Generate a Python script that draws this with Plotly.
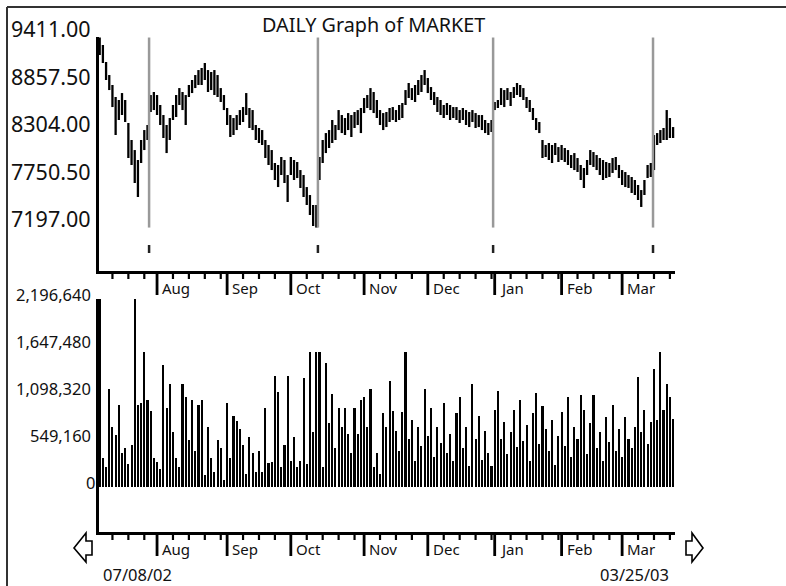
import plotly.graph_objects as go

W, H = 786, 586

title_text = "DAILY Graph of MARKET"
start_label = "07/08/02"
end_label = "03/25/03"

# Daily high / low of the index (07/08/02 .. 03/25/03, one entry per trading day)
high = [9411, 9324, 9126, 8974, 8858, 8718, 8683, 8764, 8683, 8415,
        8217, 8100, 7984, 8217, 8333, 8392, 8741, 8776, 8741, 8625,
        8508, 8392, 8473, 8625, 8741, 8822, 8776, 8741, 8858, 8916,
        8974, 9032, 9056, 9114, 9032, 9009, 9032, 8974, 8822, 8741,
        8590, 8508, 8473, 8508, 8566, 8601, 8764, 8590, 8566, 8392,
        8357, 8333, 8217, 8159, 8100, 7949, 7926, 8019, 7984, 7809,
        8019, 7984, 7961, 7867, 7809, 7669, 7576, 7460, 7460, 8019,
        8217, 8298, 8333, 8450, 8392, 8566, 8508, 8473, 8531, 8508,
        8543, 8566, 8590, 8706, 8741, 8822, 8776, 8683, 8566, 8531,
        8543, 8590, 8601, 8566, 8625, 8648, 8799, 8881, 8822, 8858,
        8916, 8974, 9032, 8939, 8834, 8776, 8718, 8683, 8625, 8648,
        8625, 8601, 8601, 8566, 8590, 8566, 8543, 8566, 8531, 8508,
        8508, 8450, 8415, 8450, 8660, 8683, 8822, 8799, 8822, 8776,
        8834, 8881, 8858, 8822, 8718, 8683, 8590, 8473, 8427, 8217,
        8159, 8182, 8159, 8182, 8135, 8159, 8124, 8100, 8042, 8065,
        8007, 7926, 7891, 7984, 8100, 8077, 8042, 8007, 7984, 7961,
        7949, 8007, 8019, 7926, 7867, 7844, 7809, 7786, 7751, 7693,
        7634, 7751, 7926, 7949, 8275, 8298, 8333, 8357, 8566, 8473,
        8368]
low = [9207, 9114, 8916, 8799, 8601, 8275, 8450, 8508, 8427, 8007,
       7926, 7716, 7553, 7949, 8100, 8217, 8543, 8566, 8508, 8392,
       8240, 8065, 8217, 8450, 8485, 8625, 8566, 8392, 8718, 8764,
       8822, 8858, 8858, 8916, 8776, 8799, 8741, 8718, 8660, 8566,
       8392, 8252, 8275, 8333, 8392, 8427, 8508, 8357, 8333, 8217,
       8182, 8159, 8007, 7926, 7867, 7751, 7669, 7809, 7716, 7495,
       7809, 7751, 7774, 7658, 7553, 7460, 7343, 7215, 7197, 7751,
       7949, 8065, 8124, 8182, 8217, 8333, 8298, 8275, 8333, 8252,
       8357, 8392, 8298, 8531, 8590, 8566, 8531, 8473, 8392, 8333,
       8368, 8427, 8450, 8427, 8450, 8473, 8625, 8706, 8683, 8660,
       8741, 8776, 8858, 8764, 8683, 8625, 8543, 8508, 8473, 8508,
       8450, 8473, 8450, 8415, 8450, 8392, 8368, 8427, 8357, 8368,
       8333, 8298, 8275, 8310, 8566, 8590, 8625, 8601, 8683, 8613,
       8706, 8741, 8718, 8683, 8590, 8543, 8450, 8333, 8298, 8007,
       8019, 7984, 7949, 8042, 7961, 7984, 7961, 7926, 7891, 7867,
       7844, 7751, 7658, 7809, 7926, 7903, 7867, 7809, 7751, 7774,
       7786, 7833, 7867, 7774, 7693, 7669, 7658, 7600, 7576, 7518,
       7437, 7576, 7774, 7786, 7867, 8159, 8182, 8217, 8217, 8240,
       8240]
volume = [2200000, 335000, 237000, 1145000, 705000, 608000, 958000, 393000, 452000, 269000,
          491000, 2196640, 958000, 985000, 1581000, 1016000, 892000, 335000, 296000, 210000,
          1425000, 927000, 1203000, 646000, 335000, 237000, 1203000, 1048000, 549000, 1016000,
          424000, 958000, 1016000, 140000, 705000, 335000, 179000, 549000, 452000, 82000,
          985000, 335000, 830000, 771000, 674000, 491000, 148000, 580000, 393000, 179000,
          424000, 179000, 927000, 277000, 296000, 1297000, 1114000, 237000, 491000, 1297000,
          304000, 588000, 237000, 304000, 1270000, 269000, 1581000, 646000, 1581000, 1581000,
          237000, 1453000, 744000, 1083000, 459000, 927000, 705000, 927000, 615000, 393000,
          927000, 615000, 1016000, 1048000, 705000, 1145000, 237000, 393000, 148000, 861000,
          705000, 1239000, 892000, 650000, 420000, 880000, 1580000, 560000, 780000, 300000,
          700000, 480000, 1150000, 600000, 920000, 350000, 700000, 520000, 980000, 400000,
          620000, 300000, 860000, 1050000, 450000, 700000, 250000, 1200000, 560000, 830000,
          310000, 650000, 400000, 250000, 900000, 1120000, 560000, 760000, 380000, 640000,
          900000, 470000, 1020000, 540000, 720000, 300000, 860000, 1100000, 500000, 950000,
          680000, 420000, 780000, 260000, 600000, 880000, 480000, 1050000, 350000, 700000,
          560000, 1080000, 900000, 380000, 750000, 1080000, 450000, 640000, 300000, 820000,
          530000, 960000, 420000, 680000, 350000, 820000, 560000, 460000, 700000, 1280000,
          640000, 900000, 500000, 760000, 1380000, 780000, 1580000, 900000, 1200000, 1050000,
          790000]

price_tick_vals = [9411.00, 8857.50, 8304.00, 7750.50, 7197.00]
price_tick_text = ["9411.00", "8857.50", "8304.00", "7750.50", "7197.00"]
vol_tick_vals = [2196640, 1647480, 1098320, 549160, 0]
vol_tick_text = ["2,196,640", "1,647,480", "1,098,320", "549,160", "0"]

month_names = ["Aug", "Sep", "Oct", "Nov", "Dec", "Jan", "Feb", "Mar"]
month_start_idx = [18, 40, 60, 83, 103, 124, 145, 164]
week_tick_idx = [4, 9, 14, 23, 28, 33, 38, 45, 50, 55, 65, 70, 75, 80, 88, 93, 98,
                 108, 113, 118, 123, 129, 134, 139, 144, 150, 155, 160, 169, 174, 179]
cycle_idx = [15.5, 68.5, 123.5, 173.7]

n = len(high)
idx = list(range(n))

FONT = "Noto Sans"


def px_x(p):
    return p / W


def px_y(p):
    return 1 - p / H


# ---------- geometry (pixels) ----------
plot_l, plot_r = 99, 675
price_top, price_bot = 37, 271
vol_top, vol_bot = 299, 532
x_range = [-0.22, 180.6]
price_range = [6691, 9417]
vol_range = [-525780, 2196640]

fig = go.Figure()

# price bars (high-low)
xs, ys = [], []
for i in idx:
    xs += [i, i, None]
    ys += [low[i], high[i], None]
fig.add_trace(go.Scatter(x=xs, y=ys, mode="lines", line=dict(color="black", width=2.3),
                         xaxis="x", yaxis="y", hoverinfo="skip", showlegend=False))

# cycle lines
cx, cy = [], []
for c in cycle_idx:
    cx += [c, c, None]
    cy += [price_tick_vals[0], price_tick_vals[-1], None]
fig.add_trace(go.Scatter(x=cx, y=cy, mode="lines", line=dict(color="#999999", width=2.5),
                         xaxis="x", yaxis="y", hoverinfo="skip", showlegend=False))

# volume bars
fig.add_trace(go.Bar(x=idx, y=volume, width=0.66, marker=dict(color="black", line=dict(width=0)),
                     xaxis="x2", yaxis="y2", hoverinfo="skip", showlegend=False))

shapes = []
annotations = []

# small cycle marks below price panel
for c in cycle_idx:
    shapes.append(dict(type="line", xref="x", yref="paper", x0=c, x1=c,
                       y0=px_y(245), y1=px_y(253), line=dict(color="#222222", width=2.5)))

# ticks and month labels for both panels
for axis_ref, base in (("x", price_bot), ("x2", vol_bot)):
    for t in week_tick_idx:
        shapes.append(dict(type="line", xref=axis_ref, yref="paper", x0=t, x1=t,
                           y0=px_y(base + 3), y1=px_y(base + 8), line=dict(color="black", width=2.2)))
    for t, name in zip(month_start_idx, month_names):
        shapes.append(dict(type="line", xref=axis_ref, yref="paper", x0=t, x1=t,
                           y0=px_y(base + 3), y1=px_y(base + 24), line=dict(color="black", width=2.8)))
        annotations.append(dict(text=name, xref=axis_ref, yref="paper", x=t, y=px_y(base + 17),
                                xanchor="left", yanchor="middle", xshift=3, showarrow=False,
                                font=dict(family=FONT, size=15, color="#111")))

# price labels
for v, t in zip(price_tick_vals, price_tick_text):
    annotations.append(dict(text=t, xref="paper", yref="y", x=px_x(93), y=v, xanchor="right",
                            yanchor="middle", yshift=9, showarrow=False,
                            font=dict(family=FONT, size=21.5, color="#111")))
# volume labels
for v, t in zip(vol_tick_vals, vol_tick_text):
    xr = px_x(97) if v == 0 else px_x(93)
    annotations.append(dict(text=t, xref="paper", yref="y2", x=xr, y=v, xanchor="right",
                            yanchor="middle", yshift=5, showarrow=False,
                            font=dict(family=FONT, size=16.5, color="#111")))

# title and dates
annotations.append(dict(text=title_text, xref="paper", yref="paper", x=px_x(373), y=px_y(25),
                        xanchor="center", yanchor="middle", showarrow=False,
                        font=dict(family=FONT, size=19.8, color="#111")))
annotations.append(dict(text=start_label, xref="paper", yref="paper", x=px_x(101), y=px_y(574),
                        xanchor="left", yanchor="middle", showarrow=False,
                        font=dict(family=FONT, size=16.5, color="#111")))
annotations.append(dict(text=end_label, xref="paper", yref="paper", x=px_x(671), y=px_y(574),
                        xanchor="right", yanchor="middle", showarrow=False,
                        font=dict(family=FONT, size=16.5, color="#111")))

# outer frame (top and left)
shapes.append(dict(type="line", xref="paper", yref="paper", x0=px_x(7), x1=1.0,
                   y0=px_y(7), y1=px_y(7), line=dict(color="#333", width=2)))
shapes.append(dict(type="line", xref="paper", yref="paper", x0=px_x(7), x1=px_x(7),
                   y0=px_y(7), y1=0.0, line=dict(color="#333", width=2)))


# scroll arrows
def arrow_path(pts):
    return "M " + " L ".join(f"{px_x(a):.5f},{px_y(b):.5f}" for a, b in pts) + " Z"


left_arrow = [(74, 548), (86, 533), (86, 541), (92, 541), (92, 555), (86, 555), (86, 562)]
right_arrow = [(703, 548), (692, 533), (692, 541), (686, 541), (686, 555), (692, 555), (692, 562)]
for pts in (left_arrow, right_arrow):
    shapes.append(dict(type="path", xref="paper", yref="paper", path=arrow_path(pts),
                       line=dict(color="black", width=1.6), fillcolor="white"))

axis_common = dict(showgrid=False, zeroline=False, showticklabels=False, ticks="",
                   showline=True, linecolor="black", linewidth=2.5)

fig.update_layout(
    width=W, height=H, margin=dict(l=0, r=0, t=0, b=0),
    paper_bgcolor="white", plot_bgcolor="white",
    bargap=0,
    xaxis=dict(domain=[px_x(plot_l), px_x(plot_r)], range=x_range, anchor="y", **axis_common),
    yaxis=dict(domain=[px_y(price_bot), px_y(price_top)], range=price_range, anchor="x", **axis_common),
    xaxis2=dict(domain=[px_x(plot_l), px_x(plot_r)], range=x_range, anchor="y2", **axis_common),
    yaxis2=dict(domain=[px_y(vol_bot), px_y(vol_top)], range=vol_range, anchor="x2", **axis_common),
    shapes=shapes, annotations=annotations, showlegend=False,
)

fig.write_html("out.html", config={"displayModeBar": False},
               post_script="document.body.style.margin='0px';document.body.style.overflow='hidden';")
